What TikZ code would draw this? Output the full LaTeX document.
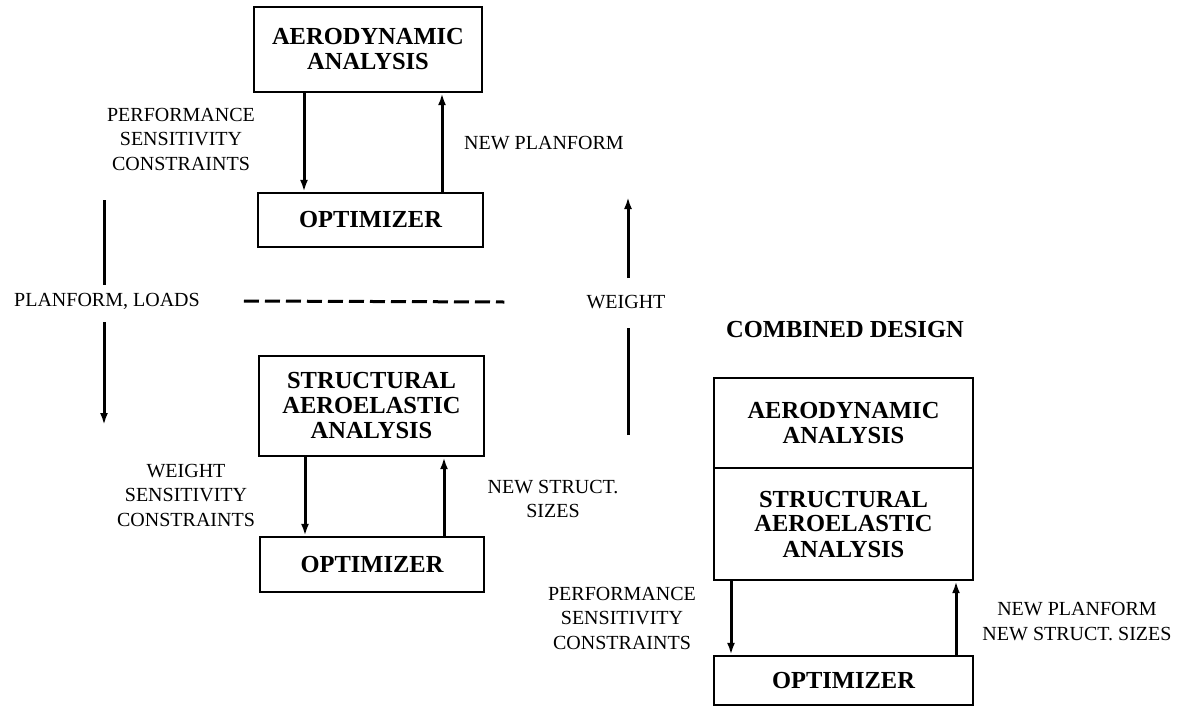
\documentclass[tikz,border=0pt]{standalone}
\usepackage{fontspec}
\setmainfont{Liberation Serif}
\usetikzlibrary{arrows.meta}
\tikzset{
	block/.style={draw, line width=2.4pt, inner sep=0pt, align=center,
			font=\fontsize{24.5}{25}\selectfont\bfseries},
	tag/.style={inner sep=0pt, align=center, font=\fontsize{20}{24.5}\selectfont},
	flow/.style={line width=3pt, -{Latex[length=12pt,width=8pt]}},
	link/.style={line width=3pt},
	dashline/.style={line width=3pt, dash pattern=on 15pt off 6pt}
}

\begin{document}
\begin{tikzpicture}[x=1pt, y=-1pt]
			\useasboundingbox (0,0) rectangle (1185,707);

			\node[block, minimum width=228pt, minimum height=85pt] (aero) at (368,49.5) {AERODYNAMIC\\ANALYSIS};
			\node[block, minimum width=225pt, minimum height=54pt] (opt1) at (370.5,220) {OPTIMIZER};
			\node[block, minimum width=225pt, minimum height=100pt] (struct) at (371.5,406) {STRUCTURAL\\AEROELASTIC\\ANALYSIS};
			\node[block, minimum width=224pt, minimum height=55pt] (opt2) at (372,564.5) {OPTIMIZER};

			\node[block, draw=none] (combined) at (845,330) {COMBINED DESIGN};
			\node[block, minimum width=259pt, minimum height=90pt] (combA) at (843.5,423) {AERODYNAMIC\\ANALYSIS};
			\node[block, minimum width=259pt, minimum height=112pt] (combS) at (843.5,524) {STRUCTURAL\\AEROELASTIC\\ANALYSIS};
			\node[block, minimum width=259pt, minimum height=49pt] (opt3) at (843.5,680.5) {OPTIMIZER};

			\node[tag] (perf1) at (181,139) {PERFORMANCE\\SENSITIVITY\\CONSTRAINTS};
			\node[tag, anchor=west] (newplan1) at (464,143) {NEW PLANFORM};
			\node[tag] (wsens) at (186,495) {WEIGHT\\SENSITIVITY\\CONSTRAINTS};
			\node[tag] (newsize) at (553,499) {NEW STRUCT.\\SIZES};
			\node[tag] (perf3) at (622,618) {PERFORMANCE\\SENSITIVITY\\CONSTRAINTS};
			\node[tag] (newplan3) at (1077,621.5) {NEW PLANFORM\\NEW STRUCT. SIZES};

			\node[tag] (planform) at (107,301) {PLANFORM, LOADS};
			\node[tag] (weight) at (626,302) {WEIGHT};

			\foreach \src/\dst/\xd/\xu in {aero/opt1/304/442, struct/opt2/305/444, combS/opt3/731/956} {
				\coordinate (dn) at (\xd,0);
				\coordinate (up) at (\xu,0);
				\draw[flow] (\src.south -| dn) to (\dst.north -| dn);
				\draw[flow] (\dst.north -| up) to (\src.south -| up);
			}

			\coordinate (ltop) at (104,200);
			\coordinate (lbot) at (104,425);
			\draw[link, shorten >=8pt] (ltop) to (planform.north -| ltop);
			\draw[flow, shorten <=13pt] (planform.south -| lbot) to (lbot);

			\coordinate (wtop) at (628,197);
			\coordinate (wbot) at (628,435);
			\draw[flow, shorten <=17pt] (weight.north -| wtop) to (wtop);
			\draw[link, shorten >=19pt] (wbot) to (weight.south -| wbot);

			\draw[dashline] ([xshift=44pt]planform.east) to ([xshift=-82pt]weight.west);
		\end{tikzpicture}
\end{document}
